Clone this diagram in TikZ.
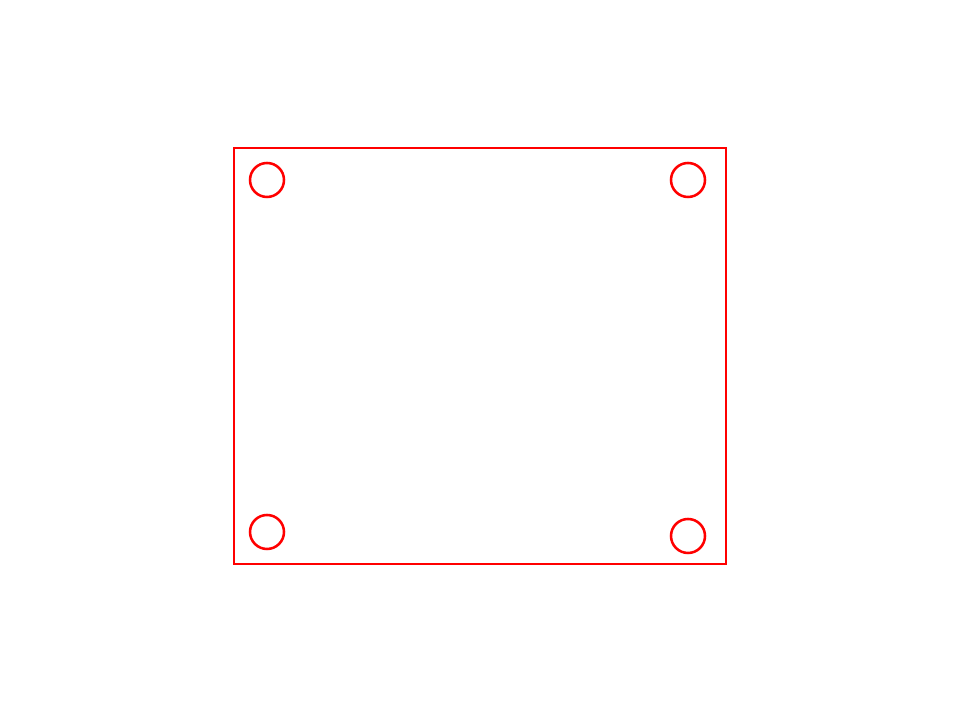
\documentclass[tikz,border=0pt]{standalone}
\usepackage{tikz}
\begin{document}
\begin{tikzpicture}[x=0.025cm,y=0.025cm]
            \useasboundingbox (0,0) rectangle (960,720);
            \tikzset{edge/.style={draw=red,line width=1.8pt}}
            \draw[edge](234,572) rectangle (726,156);
            \draw[edge] (267,540) circle (17);
            \draw[edge] (688,540) circle (17);
            \draw[edge] (267,188) circle (17);
            \draw[edge] (688,184) circle (17);
        \end{tikzpicture}
\end{document}
